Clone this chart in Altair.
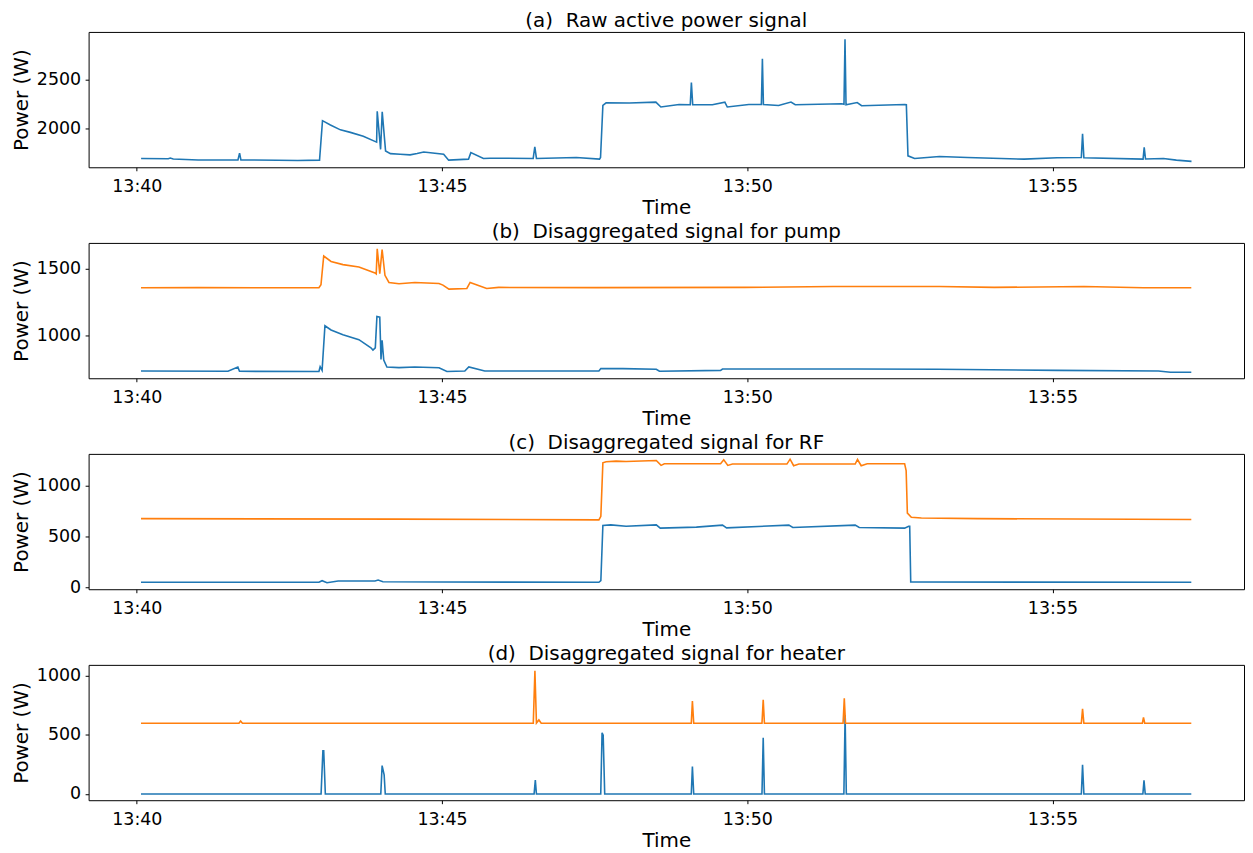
import altair as alt
import pandas as pd

# ---------------- data (seconds after 13:40:00, power in W) ----------------
RAW_T = [4.2, 30.9, 32.9, 35.8, 60.3, 99.4, 101.0, 102.3, 138.5, 158.1, 179.6, 182.5, 190.3, 200.1,
         209.9, 222.6, 235.7, 236.3, 239.6, 241.2, 244.5, 249.3, 258.8, 268.6, 275.5, 282.0, 301.6,
         306.5, 326.0, 328.3, 340.7, 346.9, 389.6, 391.2, 392.8, 432.0, 454.8, 455.8, 458.1, 461.3,
         484.1, 510.2, 515.1, 533.0, 544.0, 545.1, 546.4, 565.7, 578.0, 580.4, 601.5, 613.9, 614.9,
         615.9, 630.8, 643.0, 647.2, 692.9, 695.1, 696.1, 697.1, 708.1, 712.4, 754.8, 756.4, 758.0,
         764.5, 789.0, 816.4, 872.2, 904.5, 928.4, 929.6, 930.9, 989.1, 990.2, 991.5, 1009.1, 1021.8,
         1036.7]
RAW_W = [1690, 1688, 1695, 1685, 1675, 1675, 1745, 1675, 1672, 1670, 1673, 2077, 2033, 1983,
         1957, 1917, 1857, 2173, 1783, 2167, 1767, 1740, 1733, 1727, 1740, 1757, 1733,
         1673, 1683, 1750, 1690, 1693, 1690, 1810, 1690, 1700, 1683, 1700, 2233, 2260,
         2257, 2267, 2217, 2243, 2240, 2467, 2240, 2240, 2267, 2217, 2243, 2243, 2710,
         2243, 2233, 2267, 2240, 2250, 2245, 2910, 2240, 2263, 2230, 2243, 2240, 1717,
         1690, 1710, 1700, 1683, 1697, 1700, 1943, 1697, 1683, 1803, 1685, 1690, 1673,
         1660]

PUMP_TRUE_T = [4.1, 89.6, 99.3, 100.9, 179.0, 180.2, 182.1, 184.9, 190.9, 202.6, 218.3, 230.1, 232.1,
               234.4, 236.0, 238.8, 240.0, 241.1, 242.7, 245.8, 257.7, 273.3, 297.0, 304.8, 322.4,
               326.3, 342.0, 454.2, 456.1, 477.8, 510.6, 513.7, 573.8, 575.7, 640.9, 707.8, 787.1,
               905.5, 1004.2, 1016.0, 1036.5]
PUMP_TRUE_W = [736, 734, 766, 734, 732, 768, 741, 1074, 1042, 1007, 970, 909, 892,
               909, 1143, 1138, 823, 965, 818, 766, 761, 766, 761, 732, 736,
               766, 736, 736, 754, 754, 749, 734, 741, 751, 751, 751, 749,
               741, 736, 727, 727]
PUMP_EST_T = [4.1, 60.3, 179.0, 181.0, 183.7, 190.9, 202.6, 218.3, 234.1, 235.3, 236.3, 238.8, 241.1,
              243.9, 247.8, 257.7, 273.3, 297.0, 300.9, 306.8, 324.4, 327.6, 343.9, 355.7, 451.5,
              598.0, 684.4, 789.0, 842.8, 931.0, 989.5, 1036.5]
PUMP_EST_W = [1357, 1358, 1357, 1380, 1594, 1554, 1530, 1512, 1468, 1461, 1648, 1463, 1643,
              1450, 1397, 1387, 1397, 1389, 1377, 1347, 1352, 1397, 1352, 1360, 1358,
              1360, 1367, 1367, 1360, 1367, 1357, 1357]

RF_TRUE_T = [4.1, 179.0, 182.1, 186.9, 197.9, 234.1, 237.2, 241.9, 297.0, 454.2, 456.1, 458.1, 465.9,
             480.9, 510.6, 514.5, 550.0, 575.7, 579.7, 640.9, 644.8, 706.1, 710.1, 754.7, 758.7,
             759.7, 760.7, 1036.5]
RF_TRUE_W = [52, 52, 68, 48, 65, 65, 74, 58, 55, 52, 68, 610, 616,
             603, 616, 584, 594, 613, 587, 613, 590, 613, 590, 584, 603,
             603, 55, 52]
RF_EST_T = [4.1, 255.9, 454.2, 456.1, 458.1, 461.3, 471.1, 480.9, 510.6, 515.3, 518.5, 573.8, 576.9,
            580.9, 585.5, 639.0, 642.1, 645.6, 650.8, 706.1, 708.4, 712.0, 717.9, 754.7, 756.2,
            757.4, 761.3, 771.2, 826.5, 1036.5]
RF_EST_W = [677, 672, 665, 700, 1225, 1235, 1242, 1239, 1248, 1200, 1216, 1216, 1255,
            1200, 1213, 1213, 1261, 1197, 1213, 1213, 1258, 1197, 1216, 1216, 1150,
            732, 690, 684, 677, 668]

HEAT_TRUE_T = [4.1, 181.1, 182.9, 183.7, 185.3, 239.8, 241.1, 243.1, 244.2, 390.5, 391.7, 392.8,
               456.0, 457.3, 458.4, 459.9, 545.0, 546.1, 547.4, 614.5, 615.7, 616.9, 695.0, 696.2,
               697.4, 928.4, 929.6, 930.9, 988.9, 990.0, 991.2, 1036.5]
HEAT_TRUE_W = [0, 0, 366, 366, 0, 0, 240, 162, 0, 0, 117, 0,
               0, 517, 497, 0, 0, 232, 0, 0, 475, 0, 0, 665,
               0, 0, 246, 0, 0, 115, 0, 0]
HEAT_EST_T = [4.1, 100.4, 102.0, 103.8, 389.7, 391.3, 392.8, 395.2, 397.5, 545.0, 546.1, 547.4,
              614.5, 615.7, 616.9, 694.2, 695.4, 696.6, 928.4, 929.6, 930.9, 988.4, 989.5, 990.7,
              1036.5]
HEAT_EST_W = [598, 598, 617, 598, 598, 1042, 600, 626, 598, 598, 785, 598,
              598, 796, 598, 598, 810, 598, 598, 720, 598, 598, 648, 598,
              598]

TITLES = ["(a)\u00a0 Raw active power signal",
          "(b)\u00a0 Disaggregated signal for pump",
          "(c)\u00a0 Disaggregated signal for RF",
          "(d)\u00a0 Disaggregated signal for heater"]
Y_DOMAINS = [[1600, 2985], [682, 1692], [-16, 1313], [-53, 1092]]
Y_TICKS = [[2000, 2500], [1000, 1500], [0, 500, 1000], [0, 500, 1000]]
SERIES = ["Actual", "Estimated"]
COLORS = ["#1f77b4", "#ff7f0e"]
X_TICK_MINUTES = [40, 45, 50, 55]

W_PLOT = 1161
H_PLOT = 136


def frame(pairs):
    rows = []
    for name, ts, ws in pairs:
        for t, w in zip(ts, ws):
            rows.append({"s": t, "power": w, "series": name})
    return pd.DataFrame(rows)


x_scale = alt.Scale(domain=[alt.DateTime(year=2020, month=1, date=1, hours=13, minutes=39, seconds=12, milliseconds=600),
                            alt.DateTime(year=2020, month=1, date=1, hours=13, minutes=58, seconds=8, milliseconds=300)])
x_axis = alt.Axis(values=[alt.DateTime(year=2020, month=1, date=1, hours=13, minutes=m) for m in X_TICK_MINUTES],
                  format="%H:%M", title="Time")


def panel(df, title, ydom, yticks):
    return alt.Chart(df).transform_calculate(
        time="datetime(2020, 0, 1, 13, 40, 0, datum.s * 1000)"
    ).mark_line(strokeWidth=1.6, clip=True).encode(
        x=alt.X("time:T", scale=x_scale, axis=x_axis),
        y=alt.Y("power:Q", scale=alt.Scale(domain=ydom, nice=False, zero=False),
                axis=alt.Axis(values=yticks, format="d", title="Power (W)")),
        color=alt.Color("series:N", scale=alt.Scale(domain=SERIES, range=COLORS), legend=None),
    ).properties(width=W_PLOT, height=H_PLOT, title=alt.TitleParams(title))


dfs = [
    frame([("Actual", RAW_T, RAW_W)]),
    frame([("Actual", PUMP_TRUE_T, PUMP_TRUE_W), ("Estimated", PUMP_EST_T, PUMP_EST_W)]),
    frame([("Actual", RF_TRUE_T, RF_TRUE_W), ("Estimated", RF_EST_T, RF_EST_W)]),
    frame([("Actual", HEAT_TRUE_T, HEAT_TRUE_W), ("Estimated", HEAT_EST_T, HEAT_EST_W)]),
]

panels = [panel(dfs[i], TITLES[i], Y_DOMAINS[i], Y_TICKS[i]) for i in range(4)]

chart = alt.vconcat(*panels, spacing=3).properties(
    padding={"left": 2, "top": 0, "right": 0, "bottom": 0}, background="white"
).configure_view(
    stroke="black", strokeWidth=1
).configure_axis(
    grid=False, domain=False, ticks=True, tickColor="black", tickSize=3.5, tickWidth=1,
    labelFont="DejaVu Sans", labelFontSize=17.5, labelColor="black", labelPadding=6.5,
    titleFont="DejaVu Sans", titleFontSize=20, titleFontWeight="normal", titleColor="black",
).configure_axisY(titlePadding=5, labelPadding=4.5).configure_axisX(titlePadding=3).configure_title(
    font="DejaVu Sans", fontSize=20, fontWeight="normal", color="black", anchor="middle",
    frame="group", offset=1
)

chart.save("out.html", embed_options={"renderer": "svg", "actions": False})
